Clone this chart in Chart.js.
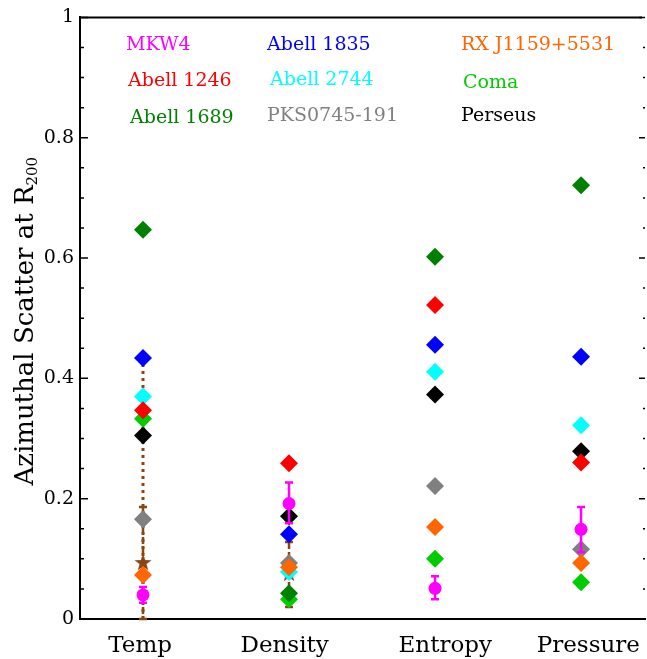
<!DOCTYPE html>
<html>
<head>
<meta charset="utf-8">
<script src="https://cdn.jsdelivr.net/npm/chart.js@4.4.0/dist/chart.umd.min.js"></script>
<style>
  html, body { margin: 0; padding: 0; background: #fff; }
  #wrap { width: 647px; height: 659px; }
</style>
</head>
<body>
<div id="wrap"><canvas id="scatterChart"></canvas></div>
<script>
//Categories and tick labels//
const categories = ["Temp", "Density", "Entropy", "Pressure"];
const categoryX = [1, 2, 3, 4];
const labelSpots = [0.98, 1.97, 3.07, 4.05];
const yTicks = [0, 0.2, 0.4, 0.6, 0.8, 1];
const yTitle = "Azimuthal Scatter at R";
const yTitleSub = "200";

//Cluster values (Temp, Density, Entropy, Pressure)//
const mkw4 = [0.040, 0.192, 0.051, 0.149];
const mkw4Lo = [0.027, 0.159, 0.033, 0.111];
const mkw4Hi = [0.053, 0.227, 0.071, 0.186];
const abell1246 = [0.347, 0.259, 0.522, 0.260];
const abell1689 = [0.647, 0.043, 0.602, 0.721];
const abell1835 = [0.434, 0.141, 0.456, 0.436];
const abell2744 = [0.370, 0.078, 0.411, 0.322];
const pks0745 = [0.166, 0.093, 0.221, 0.116];
const rxj1159 = [0.073, 0.086, 0.153, 0.093];
const coma = [0.333, 0.033, 0.100, 0.061];
const perseus = [0.305, 0.171, 0.373, 0.279];

//Brown star points with their ranges//
const starVals = [0.093, 0.075, null, null];
const starLo = [0.0, 0.02, null, null];
const starHi = [0.186, 0.128, null, null];
const tempRange = [0, 0.43];

const toPoints = (vals) => vals.map((v, i) => ({ x: categoryX[i], y: v }));

const makeStar = (color) => {
  const c = document.createElement("canvas");
  c.width = 18; c.height = 18;
  const g = c.getContext("2d");
  g.fillStyle = color;
  g.beginPath();
  for (let i = 0; i < 10; i++) {
    const r = i % 2 === 0 ? 9 : 3.6;
    const a = -Math.PI / 2 + i * Math.PI / 5;
    g.lineTo(9 + r * Math.cos(a), 9 + r * Math.sin(a));
  }
  g.closePath();
  g.fill();
  return c;
};

const brown = "#8b4513";

const diamond = (label, vals, color, order) => ({
  label: label,
  data: toPoints(vals),
  pointStyle: "rectRot",
  pointRadius: 9,
  pointHoverRadius: 9,
  backgroundColor: color,
  borderColor: color,
  borderWidth: 0,
  legendColor: color,
  order: order,
});

const datasets = [
  {
    label: "MKW4",
    data: toPoints(mkw4),
    errLo: mkw4Lo,
    errHi: mkw4Hi,
    pointStyle: "circle",
    pointRadius: 6.5,
    backgroundColor: "#ff00ff",
    borderColor: "#ff00ff",
    borderWidth: 0,
    legendColor: "#ff00ff",
    errColor: "#ff00ff",
    order: 0,
  },
  diamond("Abell 1246", abell1246, "#ff0000", 1),
  diamond("Abell 1689", abell1689, "#008000", 2),
  diamond("Abell 1835", abell1835, "#0000ff", 3),
  diamond("RX J1159+5531", rxj1159, "#ff6600", 4),
  diamond("Abell 2744", abell2744, "#00ffff", 5),
  diamond("Coma", coma, "#00cc00", 6),
  diamond("Perseus", perseus, "#000000", 7),
  diamond("PKS0745-191", pks0745, "#808080", 8),
  {
    label: "star",
    data: toPoints(starVals),
    errLo: starLo,
    errHi: starHi,
    errColor: brown,
    errDash: [7, 3],
    pointStyle: makeStar(brown),
    pointRadius: 9,
    order: 9,
  },
  {
    label: "range",
    type: "line",
    data: tempRange.map((v) => ({ x: categoryX[0], y: v })),
    borderColor: brown,
    borderWidth: 3,
    borderDash: [3, 4],
    pointRadius: 0,
    order: 10,
  },
];

//Legend text placement (pixels in the canvas)//
const legendSlots = {
  "MKW4": [126, 45], "Abell 1835": [267, 45], "RX J1159+5531": [461, 45],
  "Abell 1246": [128, 81], "Abell 2744": [270, 80], "Coma": [463, 83],
  "Abell 1689": [130, 118], "PKS0745-191": [267, 116], "Perseus": [461, 116],
};

const errorBars = {
  id: "errorBars",
  afterDatasetDraw(chart, args) {
    const ds = chart.data.datasets[args.index];
    if (!ds.errLo) return;
    const ctx = chart.ctx;
    const xs = chart.scales.x, ys = chart.scales.y;
    ctx.save();
    ctx.strokeStyle = ds.errColor;
    ctx.lineWidth = 2.5;
    ds.errLo.forEach((lo, i) => {
      if (lo === null) return;
      const px = xs.getPixelForValue(categoryX[i]);
      const top = ys.getPixelForValue(ds.errHi[i]);
      const bot = ys.getPixelForValue(lo);
      ctx.setLineDash(ds.errDash || []);
      ctx.beginPath();
      ctx.moveTo(px, top);
      ctx.lineTo(px, bot);
      ctx.stroke();
      ctx.setLineDash([]);
      ctx.beginPath();
      ctx.moveTo(px - 4, top); ctx.lineTo(px + 4, top);
      ctx.moveTo(px - 4, bot); ctx.lineTo(px + 4, bot);
      ctx.stroke();
    });
    ctx.restore();
  },
};

const serif = "'DejaVu Serif', serif";

const frameAndTicks = {
  id: "frameAndTicks",
  afterDraw(chart) {
    const ctx = chart.ctx;
    const area = chart.chartArea;
    const ys = chart.scales.y;
    ctx.save();
    ctx.strokeStyle = "#000";
    ctx.lineWidth = 2;
    ctx.beginPath();
    ctx.moveTo(area.left, area.top);
    ctx.lineTo(area.right - 3, area.top);
    ctx.stroke();
    ctx.lineWidth = 1.5;
    for (let k = 0; k <= 20; k++) {
      const v = k * 0.05;
      const py = ys.getPixelForValue(v);
      const len = k % 4 === 0 ? 8 : 4;
      ctx.beginPath();
      ctx.moveTo(area.left, py);
      ctx.lineTo(area.left + len, py);
      ctx.moveTo(area.right, py);
      ctx.lineTo(area.right - len + 2, py);
      ctx.stroke();
    }

    // legend as coloured text
    ctx.font = "19px " + serif;
    ctx.textBaseline = "middle";
    ctx.textAlign = "left";
    chart.data.datasets.forEach((ds) => {
      const slot = legendSlots[ds.label];
      if (!slot) return;
      ctx.fillStyle = ds.legendColor;
      ctx.fillText(ds.label, slot[0], slot[1]);
    });

    // y title with a real subscript
    ctx.fillStyle = "#000";
    ctx.textBaseline = "alphabetic";
    ctx.font = "26px " + serif;
    const mainW = ctx.measureText(yTitle).width;
    ctx.font = "15px " + serif;
    const subW = ctx.measureText(yTitleSub).width;
    const cy = (area.top + area.bottom) / 2 + 3;
    ctx.translate(33, cy);
    ctx.rotate(-Math.PI / 2);
    const start = -(mainW + subW) / 2;
    ctx.font = "26px " + serif;
    ctx.fillText(yTitle, start, 0);
    ctx.font = "15px " + serif;
    ctx.fillText(yTitleSub, start + mainW, 4);
    ctx.restore();
  },
};

const config = {
  type: "scatter",
  data: { datasets: datasets },
  options: {
    responsive: true,
    maintainAspectRatio: false,
    animation: false,
    layout: { autoPadding: false, padding: { top: 16, right: 2, left: 0, bottom: 0 } },
    plugins: {
      legend: { display: false },
      tooltip: { enabled: false },
    },
    scales: {
      x: {
        type: "linear",
        min: 0.5685,
        max: 4.438,
        grid: { display: false, drawTicks: false },
        border: { display: true, color: "#000", width: 2 },
        afterBuildTicks: (scale) => {
          scale.ticks = labelSpots.map((v) => ({ value: v }));
        },
        afterFit: (scale) => {
          scale.height = 40;
          scale.paddingLeft = 0;
          scale.paddingRight = 0;
        },
        ticks: {
          autoSkip: false,
          maxRotation: 0,
          padding: 13,
          color: "#000",
          font: { family: serif, size: 23 },
          callback: (value, index) => categories[index],
        },
      },
      y: {
        min: 0,
        max: 1,
        grid: { display: false, drawTicks: false },
        border: { display: true, color: "#000", width: 2 },
        afterBuildTicks: (scale) => {
          scale.ticks = yTicks.map((v) => ({ value: v }));
        },
        afterFit: (scale) => { scale.width = 80; },
        ticks: {
          padding: 6,
          color: "#000",
          font: { family: serif, size: 19 },
          callback: (value) => (value === 0 || value === 1 ? String(value) : value.toFixed(1)),
        },
      },
    },
  },
  plugins: [errorBars, frameAndTicks],
};

const scatterChart = new Chart(document.querySelector("#scatterChart").getContext("2d"), config);
</script>
</body>
</html>
